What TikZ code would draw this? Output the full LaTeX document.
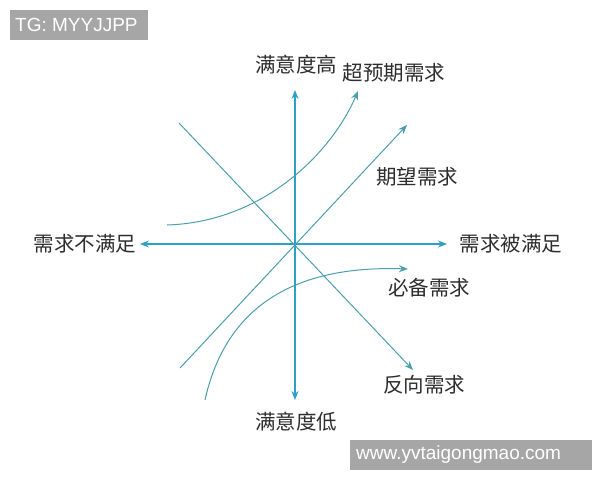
\documentclass[tikz,border=0pt]{standalone}
\usepackage{fontspec}
\newfontfamily\cjk{Noto Sans CJK SC}
\setsansfont{Liberation Sans}
\usetikzlibrary{arrows.meta}
\definecolor{axisblue}{RGB}{45,160,200}
\definecolor{lineteal}{RGB}{75,158,172}
\definecolor{wmgray}{RGB}{166,166,166}
\definecolor{lbltext}{RGB}{45,45,45}

\begin{document}
\begin{tikzpicture}[x=1pt,y=-1pt,>={Stealth[length=9pt,width=7pt]},
  axis/.style={draw=axisblue,line width=1.1pt},
  kline/.style={draw=lineteal,line width=1pt},
  lbl/.style={font=\cjk\fontsize{20.5}{20.5}\selectfont,text=lbltext,inner sep=0pt},
  wmtext/.style={font=\sffamily\fontsize{19}{19}\selectfont,text=white,inner sep=0pt,anchor=west}]
\useasboundingbox (0,0) rectangle (600,480);
% axes
\coordinate (O) at (295,244);
\coordinate (top) at (295,90);
\coordinate (bot) at (295,400);
\coordinate (lft) at (140,244);
\coordinate (rgt) at (447,244);
\draw[axis,->] (O) -- (top);
\draw[axis,->] (O) -- (bot);
\draw[axis,->] (O) -- (lft);
\draw[axis,->] (O) -- (rgt);
% straight lines
\coordinate (rs) at (179,123);
\coordinate (re) at (413,370);
\coordinate (es) at (180,368);
\coordinate (ee) at (407,125);
\draw[kline,->] (rs) -- (re);
\draw[kline,->] (es) -- (ee);
% curves
\coordinate (xs) at (167,225);
\coordinate (xe) at (358,91);
\coordinate (ms) at (205,400);
\coordinate (me) at (408,269);
\draw[kline,->] (xs) .. controls (264,222) and (332,152) .. (xe);
\draw[kline,->] (ms) .. controls (225,310) and (290,265) .. (me);
% labels
\node[lbl] (high) at (296,65) {满意度高};
\node[lbl] (low) at (296,422) {满意度低};
\node[lbl] (unmet) at (85,244) {需求不满足};
\node[lbl] (met) at (511,244) {需求被满足};
\node[lbl] (excite) at (394,73) {超预期需求};
\node[lbl] (expect) at (417,177) {期望需求};
\node[lbl] (must) at (429,288) {必备需求};
\node[lbl] (revers) at (424,385) {反向需求};
% watermarks
\fill[wmgray] (10,10) rectangle (148,40);
\node[wmtext] (tg) at (15,25) {TG: MYYJJPP};
\fill[wmgray] (350,440) rectangle (592,470);
\node[wmtext] (web) at (356,455) {www.yvtaigongmao.com};
\end{tikzpicture}
\end{document}
